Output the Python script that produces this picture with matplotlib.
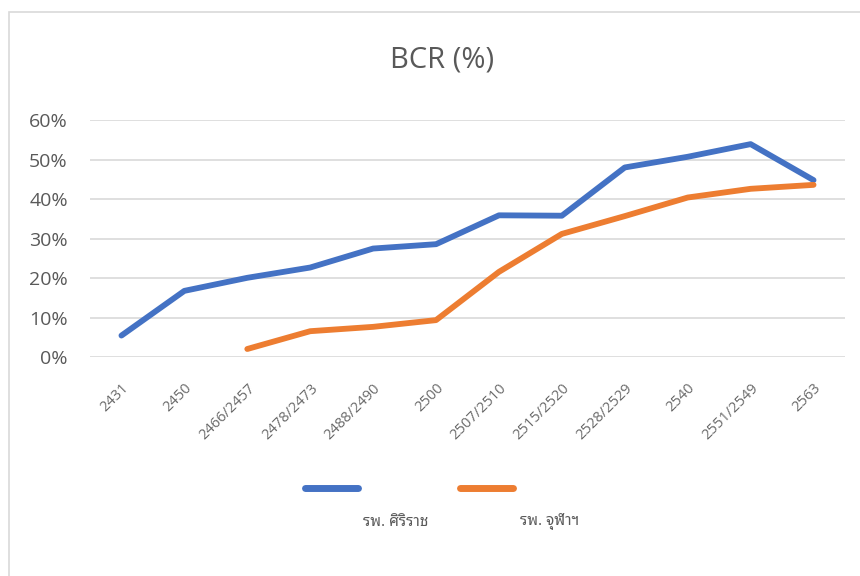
import matplotlib.pyplot as plt
from matplotlib.lines import Line2D
from matplotlib.patches import Rectangle
from matplotlib.ticker import PercentFormatter

plt.rcParams['font.family'] = ['Open Sans', 'Noto Sans Thai Looped', 'DejaVu Sans']

years = ["2431", "2450", "2466/2457", "2478/2473", "2488/2490", "2500",
         "2507/2510", "2515/2520", "2528/2529", "2540", "2551/2549", "2563"]
siriraj = [5.5, 16.8, 20.1, 22.7, 27.5, 28.6, 35.9, 35.8, 48.0, 50.7, 53.9, 44.8]
chula = [None, None, 2.1, 6.6, 7.7, 9.4, 21.6, 31.2, 35.7, 40.4, 42.6, 43.6]
names = ["รพ. ศิริราช", "รพ. จุฬาฯ"]

BLUE = "#4472C4"
ORANGE = "#ED7D31"
GREY = "#595959"

W, H = 860, 576
fig = plt.figure(figsize=(W / 100, H / 100), dpi=100)
ax = fig.add_axes([90 / W, 1 - 357.3 / H, 755 / W, 237.3 / H])

x = list(range(len(years)))
ax.plot(x, siriraj, color=BLUE, lw=4.2, solid_capstyle="round",
        solid_joinstyle="round")
cx = [i for i, v in zip(x, chula) if v is not None]
cy = [v for v in chula if v is not None]
ax.plot(cx, cy, color=ORANGE, lw=4.2, solid_capstyle="round",
        solid_joinstyle="round")

ax.set_xlim(-0.5, len(years) - 0.5)
ax.set_ylim(0, 60)
ax.set_yticks(range(0, 61, 10))
ax.yaxis.set_major_formatter(PercentFormatter(decimals=0))
ax.set_xticks(x)
ax.set_xticklabels(years, rotation=45, ha="right", rotation_mode="anchor",
                   fontsize=10.5, color="#6A6A6A")
ax.tick_params(axis="y", labelsize=14, labelcolor=GREY, length=0, pad=16)
ax.tick_params(axis="x", length=0, pad=17)
ax.grid(axis="y", color="#D9D9D9", lw=1.2)
ax.set_axisbelow(True)
for s in ax.spines.values():
    s.set_visible(False)

fig.text(442 / W, 1 - 60 / H, "BCR (%)", ha="center", va="center",
         fontsize=21, color=GREY)

# legend drawn by hand: line keys on one row, names underneath
for (x0, x1), c in [((305, 358), BLUE), ((460, 513), ORANGE)]:
    fig.add_artist(Line2D([x0 / W, x1 / W], [1 - 488 / H] * 2, color=c,
                          lw=5, solid_capstyle="round"))
for xc, name in [(396, names[0]), (550, names[1])]:
    fig.text(xc / W, 1 - 522 / H, name, ha="center", va="center",
             fontsize=11, color=GREY, family="Noto Sans Thai Looped",
             fontweight="light")

fig.add_artist(Rectangle((8.5 / W, -0.1), 1.2, 1 - 12.5 / H + 0.1,
                         transform=fig.transFigure, fill=False,
                         edgecolor="#D9D9D9", lw=1.2))

fig.savefig("out.png", dpi=100)
